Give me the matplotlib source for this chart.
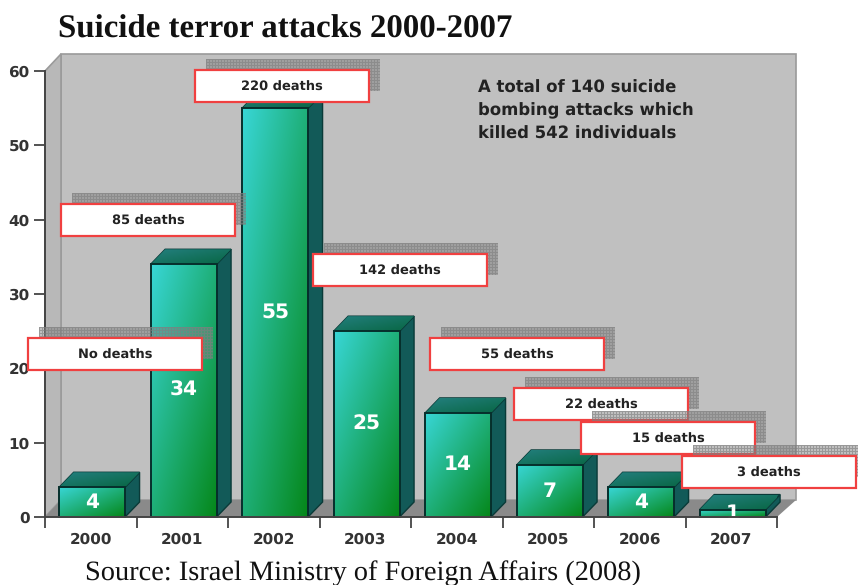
# Suicide terror attacks per year, drawn as a 3D-looking bar chart with callouts

import numpy as np
import matplotlib
matplotlib.use("Agg")
import matplotlib.pyplot as plt
from matplotlib.patches import Polygon, Rectangle

plt.rcParams["text.hinting"] = "no_hinting"

years = ["2000", "2001", "2002", "2003", "2004", "2005", "2006", "2007"]
attacks = [4, 34, 55, 25, 14, 7, 4, 1]
death_labels = ["No deaths", "85 deaths", "220 deaths", "142 deaths",
                "55 deaths", "22 deaths", "15 deaths", "3 deaths"]
y_ticks = [0, 10, 20, 30, 40, 50, 60]
note_lines = ["A total of 140 suicide", "bombing attacks which", "killed 542 individuals"]

# left and top pixel of each callout box
box_left = [28, 61, 195, 313, 430, 514, 581, 682]
box_top = [338, 204, 70, 254, 338, 388, 422, 456]
BOX_W = 174
BOX_H = 32
SHADOW = 11

W = 858
H = 585
PLOT_L, PLOT_R, PLOT_T, PLOT_B = 45, 777, 71, 517

fig = plt.figure(figsize=(W / 100, H / 100), dpi=100, facecolor="white")
ax = fig.add_axes([PLOT_L / W, (H - PLOT_B) / H, (PLOT_R - PLOT_L) / W, (PLOT_B - PLOT_T) / H])
ax.set_xlim(-0.5, 7.5)
ax.set_ylim(0, 60)
ax.set_facecolor("none")

# depth of the 3D effect in data units
px_x = 8 / (PLOT_R - PLOT_L)
px_y = 60 / (PLOT_B - PLOT_T)
wall_left = 16 * px_x
wall_right = 19 * px_x
wall_dy = 17 * px_y
bar_dx = 14.5 * px_x
bar_dy = 15 * px_y


def poly(points, color, edge="none", lw=0, z=1):
    p = Polygon(points, closed=True, facecolor=color, edgecolor=edge, linewidth=lw,
                clip_on=False, zorder=z)
    ax.add_patch(p)
    return p


# gradient running from top left to bottom right, clipped to a patch
def gradient_fill(patch, extent, start, end, z):
    u = np.linspace(0, 1, 64)
    xx, yy = np.meshgrid(u, u)
    t = ((xx + yy) / 2)[..., None]
    img = np.array(start) * (1 - t) + np.array(end) * t
    im = ax.imshow(img, extent=extent, origin="upper", aspect="auto", zorder=z,
                   interpolation="bilinear")
    im.set_clip_path(patch)


# chart box: back wall, left wall and floor
x0, x1 = -0.5, 7.5
poly([(x0 + wall_left, wall_dy), (x1 + wall_right, wall_dy), (x1 + wall_right, 60 + wall_dy),
      (x0 + wall_left, 60 + wall_dy)], "#c0c0c0", "#9a9a9a", 1.2, 0.5)
poly([(x0, 0), (x0 + wall_left, wall_dy), (x0 + wall_left, 60 + wall_dy), (x0, 60)],
     "#b8b8b8", "#9a9a9a", 1.2, 0.6)
poly([(x0, 0), (x1, 0), (x1 + wall_right, wall_dy), (x0 + wall_left, wall_dy)],
     "#8a8a8a", "none", 0, 0.7)

# bars
positions = np.arange(len(years)) + 0.015
bars = ax.bar(positions, attacks, width=0.72, facecolor="none", edgecolor="#062f2c",
              linewidth=1.4, zorder=3.5, clip_on=False)
for pos, val, bar in zip(positions, attacks, bars):
    left = pos - 0.36
    right = pos + 0.36
    poly([(right, 0), (right + bar_dx, bar_dy), (right + bar_dx, val + bar_dy), (right, val)],
         "#125a58", "#0a3a38", 1.0, 3)
    top = poly([(left, val), (right, val), (right + bar_dx, val + bar_dy), (left + bar_dx, val + bar_dy)],
               "#1a7a72", "#0a3a38", 1.0, 3)
    gradient_fill(top, (left, right + bar_dx, val, val + bar_dy),
                  (0.14, 0.50, 0.50), (0.03, 0.40, 0.26), 3.1)
    front = Rectangle((left, 0), 0.72, val, transform=ax.transData)
    gradient_fill(front, (left, right, 0, val),
                  (0.22, 0.84, 0.84), (0.02, 0.53, 0.10), 3.2)
    ax.text(pos, val / 2, str(val), color="white", fontsize=14.5, fontweight="bold",
            ha="center", va="center", zorder=4)
ax.set_xlim(-0.5, 7.5)
ax.set_ylim(0, 60)

# axes and ticks
for side in ["top", "right"]:
    ax.spines[side].set_visible(False)
for side in ["left", "bottom"]:
    ax.spines[side].set_color("#444444")
    ax.spines[side].set_linewidth(1.4)
    ax.spines[side].set_zorder(5)
ax.set_yticks(y_ticks)
ax.set_xticks(np.arange(len(years)))
ax.set_xticklabels(years)
ax.set_xticks(np.arange(len(years) + 1) - 0.5, minor=True)
ax.tick_params(axis="x", which="major", length=0, pad=11, labelsize=11, labelcolor="#333333")
ax.tick_params(axis="x", which="minor", length=8, width=1.3, color="#444444")
ax.tick_params(axis="y", length=8, width=1.3, color="#444444", pad=3, labelsize=11, labelcolor="#333333")
for lab in ax.get_xticklabels() + ax.get_yticklabels():
    lab.set_fontweight("bold")

# overlay in pixel coordinates for the callouts and captions
over = fig.add_axes([0, 0, 1, 1], facecolor="none")
over.set_xlim(0, W)
over.set_ylim(H, 0)
over.axis("off")

# grey mesh used for the callout shadows
mesh = np.zeros((BOX_H, BOX_W, 4))
mesh[..., :3] = 0.5
mesh[..., 3] = 0.5
mesh[::3, :, 3] = 0.8
mesh[:, ::3, 3] = 0.8

z = 10
for label, left, top in zip(death_labels, box_left, box_top):
    over.imshow(mesh, extent=(left + SHADOW, left + SHADOW + BOX_W, top - SHADOW + BOX_H, top - SHADOW),
                aspect="auto", interpolation="nearest", zorder=z, clip_on=False)
    over.add_patch(Rectangle((left, top), BOX_W, BOX_H, facecolor="white", edgecolor="#f04040",
                             linewidth=1.6, zorder=z + 1))
    over.text(left + BOX_W / 2, top + BOX_H / 2 + 1, label, color="#222222", fontsize=9.4,
              fontweight="bold", ha="center", va="center", zorder=z + 2)
    z += 3
over.set_xlim(0, W)
over.set_ylim(H, 0)

for i, line in enumerate(note_lines):
    over.text(478, 88 + i * 23, line, color="#222222", fontsize=11.9, fontweight="bold",
              ha="left", va="center", zorder=5)

over.text(58, 30, "Suicide terror attacks 2000-2007", family="Liberation Serif", fontweight="bold",
          fontsize=23.7, color="#111111", ha="left", va="center")
over.text(85, 573, "Source: Israel Ministry of Foreign Affairs (2008)", family="Liberation Serif",
          fontsize=20.4, color="#111111", ha="left", va="center")

fig.savefig("out.png", dpi=100)
